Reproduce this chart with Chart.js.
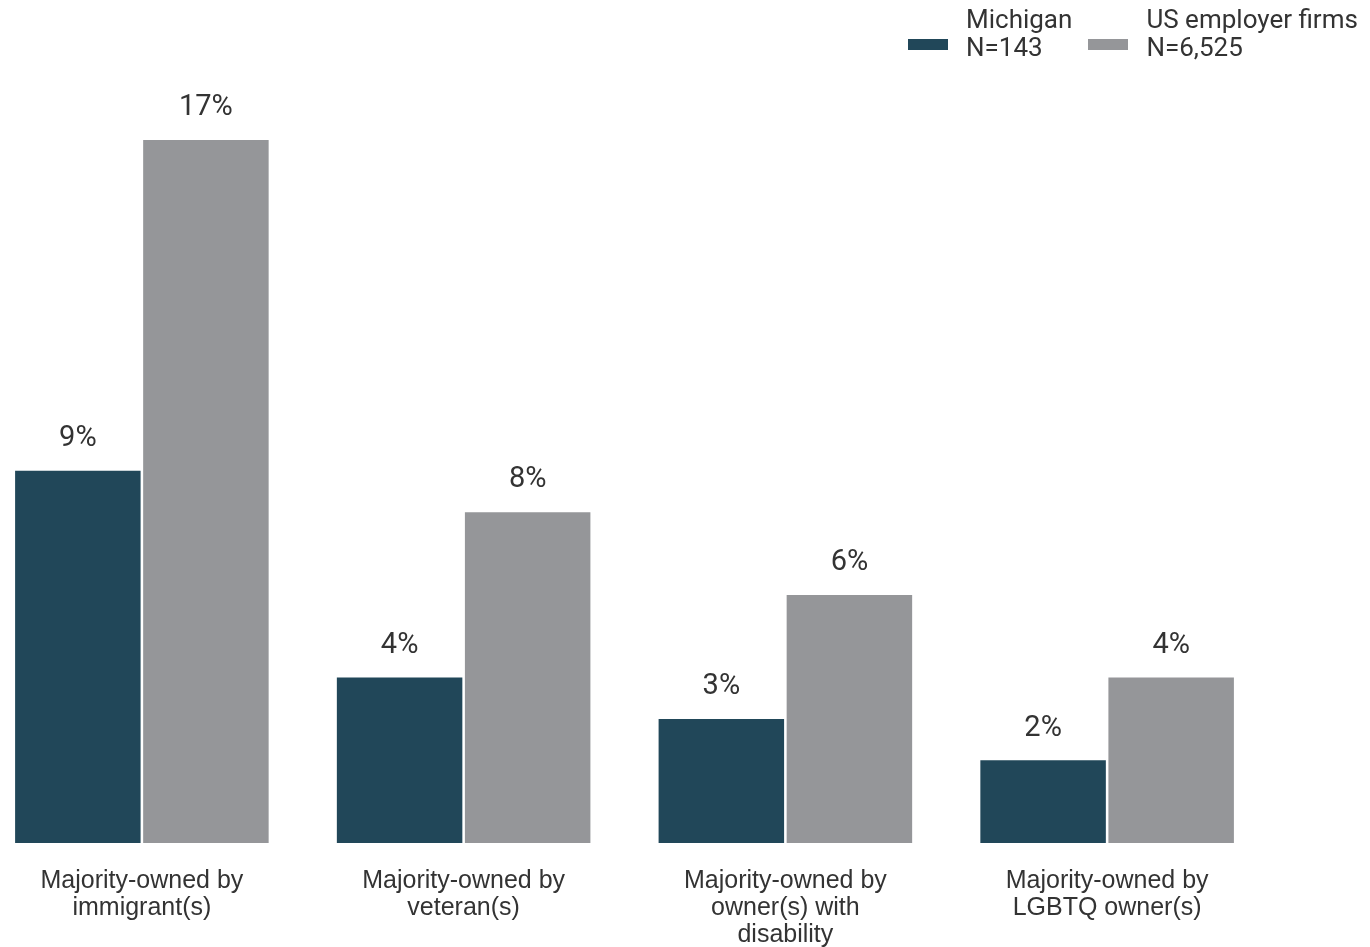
<!DOCTYPE html>
<html>
<head>
<meta charset="utf-8">
<script src="https://cdn.jsdelivr.net/npm/chart.js@4.4.0/dist/chart.umd.min.js"></script>
<style>
  html, body { margin: 0; padding: 0; background: #fff; overflow: hidden; }
  body { width: 1370px; height: 947px; position: relative; }
  #wrap { position: absolute; left: -19px; top: 0; width: 1287px; height: 974px; }
  #legend { position: absolute; top: 5px; left: 908px; width: 470px; display: flex; white-space: nowrap;
            font-family: Roboto, sans-serif; font-size: 26px; line-height: 28px; color: #333; }
  .item { display: flex; align-items: center; margin-right: 16px; flex: none; }
  .swatch { width: 40px; height: 11px; margin-right: 18px; margin-top: 22px; flex: none; }
</style>
</head>
<body>
<div id="wrap"><canvas id="chartBar"></canvas></div>
<div id="legend"></div>
<script>
const categories = [
  ['Majority-owned by', 'immigrant(s)'],
  ['Majority-owned by', 'veteran(s)'],
  ['Majority-owned by', 'owner(s) with', 'disability'],
  ['Majority-owned by', 'LGBTQ owner(s)']
];
const seriesNames = [['Michigan', 'N=143'], ['US employer firms', 'N=6,525']];
const michigan = [9, 4, 3, 2];
const usFirms = [17, 8, 6, 4];
const colors = ['#214759', '#959699'];

const valueLabels = {
  id: 'valueLabels',
  afterDatasetsDraw(chart) {
    const ctx = chart.ctx;
    ctx.save();
    ctx.font = '29px Roboto, sans-serif';
    ctx.fillStyle = '#333';
    ctx.textAlign = 'center';
    ctx.textBaseline = 'middle';
    chart.data.datasets.forEach((ds, i) => {
      chart.getDatasetMeta(i).data.forEach((bar, j) => {
        ctx.fillText(ds.data[j] + '%', bar.x, bar.y - 32);
      });
    });
    ctx.restore();
  }
};

const chartBar = new Chart(document.getElementById('chartBar'), {
  type: 'bar',
  data: {
    labels: categories,
    datasets: [
      { label: seriesNames[0].join(' '), data: michigan, backgroundColor: colors[0] },
      { label: seriesNames[1].join(' '), data: usFirms, backgroundColor: colors[1] }
    ]
  },
  options: {
    responsive: true,
    maintainAspectRatio: false,
    animation: false,
    categoryPercentage: 0.796,
    barPercentage: 0.98,
    layout: { padding: { top: 16, left: 0, right: 0, bottom: 0 } },
    plugins: { legend: { display: false }, tooltip: { enabled: false } },
    scales: {
      x: {
        grid: { display: false, drawTicks: false },
        border: { display: false },
        ticks: {
          padding: 25,
          color: '#333',
          font: { family: '"Liberation Sans", Arial, sans-serif', size: 25, lineHeight: 1.08 },
          maxRotation: 0,
          autoSkip: false
        }
      },
      y: { display: false, min: 0, max: 20 }
    }
  },
  plugins: [valueLabels]
});

const legend = document.getElementById('legend');
seriesNames.forEach((name, i) => {
  const item = document.createElement('div');
  item.className = 'item';
  item.innerHTML = `<div class="swatch" style="background:${colors[i]}"></div><div>${name[0]}<br>${name[1]}</div>`;
  legend.appendChild(item);
});
</script>
</body>
</html>
